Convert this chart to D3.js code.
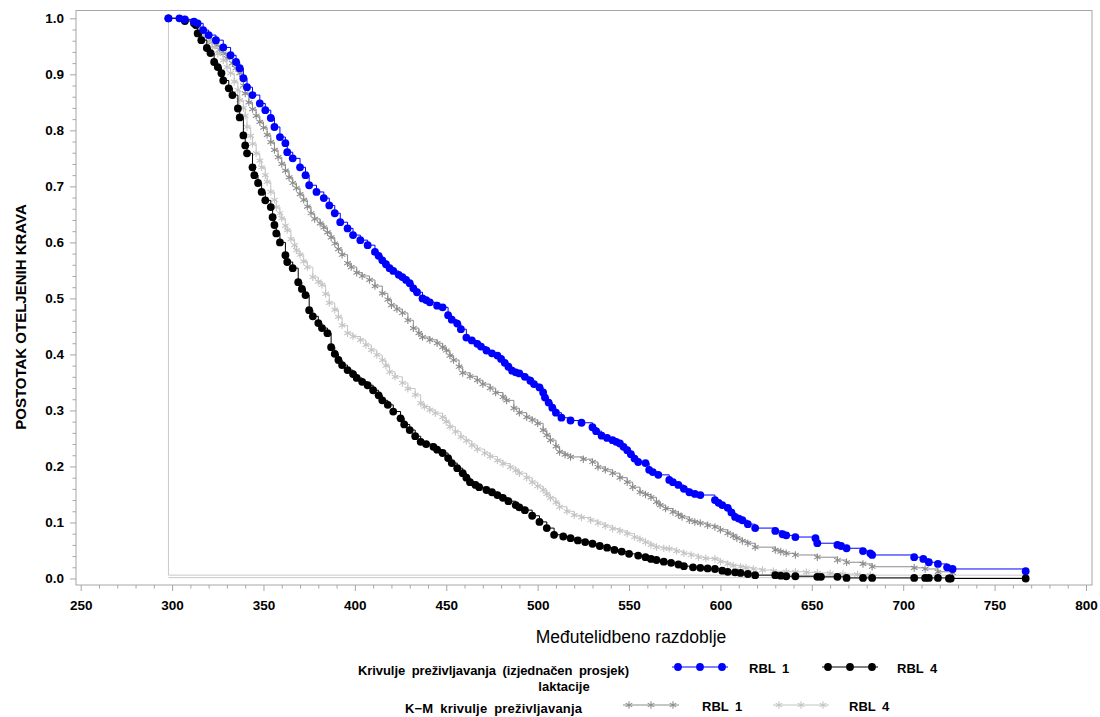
<!DOCTYPE html>
<html>
<head>
  <meta charset="UTF-8">
  <title>Krivulje preživljavanja</title>
  <script src="https://d3js.org/d3.v7.min.js"></script>
  <style>
    body { margin: 0; background: #fff; }
    text { font-family: "Liberation Sans", Arial, sans-serif; fill: #000; }
    .tick text { font-weight: bold; font-size: 13.5px; }
  </style>
</head>
<body>

<div class="chart"></div>

<script>

  // ---- data: [days, survival] ----
  var xTicks = [250, 300, 350, 400, 450, 500, 550, 600, 650, 700, 750, 800];
  var yTicks = [0, 0.1, 0.2, 0.3, 0.4, 0.5, 0.6, 0.7, 0.8, 0.9, 1.0];

  // adjusted survival curves (izjednačen prosjek laktacije)
  var adjRbl1 = [
    [298,1.0],[304,1.0],[307,0.998],[312,0.994],[314,0.991],[317,0.979],[320,0.970],[324,0.961],
    [328,0.948],[332,0.934],[335,0.922],[337,0.911],[339,0.893],[341,0.877],[344,0.863],[348,0.848],
    [351,0.836],[354,0.822],[356,0.806],[359,0.788],[362,0.777],[363,0.761],[366,0.750],[370,0.734],
    [373,0.720],[375,0.702],[379,0.690],[383,0.679],[386,0.666],[389,0.652],[392,0.636],[396,0.625],
    [399,0.613],[403,0.604],[407,0.595],[411,0.583],[413,0.576],[415,0.568],[417,0.561],[419,0.554],
    [421,0.549],[424,0.542],[426,0.538],[428,0.533],[430,0.527],[432,0.518],[434,0.511],[437,0.500],
    [439,0.497],[441,0.493],[445,0.487],[448,0.484],[451,0.470],[453,0.462],[456,0.455],[458,0.445],
    [461,0.430],[464,0.425],[467,0.419],[469,0.414],[472,0.407],[475,0.402],[478,0.398],[480,0.392],
    [482,0.385],[484,0.378],[486,0.371],[488,0.368],[490,0.366],[493,0.360],[496,0.353],[498,0.347],
    [501,0.341],[503,0.332],[504,0.323],[506,0.314],[508,0.305],[510,0.296],[513,0.287],[518,0.282],
    [524,0.278],[530,0.270],[532,0.263],[535,0.255],[538,0.251],[541,0.247],[543,0.244],[545,0.241],
    [547,0.235],[549,0.229],[551,0.222],[553,0.214],[555,0.208],[559,0.206],[561,0.194],[563,0.190],
    [566,0.185],[572,0.176],[574,0.172],[577,0.167],[580,0.160],[583,0.154],[586,0.151],[589,0.149],
    [597,0.140],[599,0.135],[601,0.131],[604,0.126],[606,0.118],[608,0.110],[610,0.107],[612,0.104],
    [615,0.097],[619,0.090],[630,0.085],[634,0.079],[636,0.077],[641,0.074],[652,0.072],[653,0.063],
    [664,0.060],[666,0.058],[669,0.054],[678,0.049],[682,0.045],[683,0.042],[706,0.038],[711,0.035],
    [714,0.029],[719,0.026],[724,0.020],[727,0.017],[767,0.013]
  ];
  var adjRbl4 = [
    [298,1.0],[307,0.995],[312,0.991],[313,0.988],[314,0.973],[316,0.961],[319,0.947],[321,0.938],
    [323,0.922],[325,0.913],[327,0.902],[328,0.889],[331,0.875],[333,0.863],[336,0.839],[337,0.823],
    [339,0.791],[340,0.773],[341,0.759],[344,0.734],[345,0.720],[347,0.706],[349,0.690],[351,0.675],
    [354,0.663],[355,0.645],[356,0.631],[357,0.616],[359,0.600],[362,0.577],[363,0.565],[366,0.554],
    [369,0.529],[371,0.517],[373,0.506],[375,0.479],[377,0.468],[380,0.456],[382,0.447],[385,0.438],
    [387,0.413],[389,0.401],[391,0.390],[393,0.381],[396,0.372],[399,0.365],[401,0.358],[404,0.351],
    [407,0.345],[410,0.336],[413,0.327],[415,0.318],[418,0.310],[421,0.298],[425,0.286],[427,0.275],
    [430,0.265],[433,0.254],[436,0.244],[439,0.240],[443,0.235],[445,0.230],[448,0.224],[451,0.215],
    [453,0.206],[456,0.197],[459,0.188],[461,0.180],[463,0.172],[466,0.167],[468,0.163],[472,0.158],
    [475,0.154],[478,0.149],[481,0.144],[484,0.138],[488,0.131],[490,0.127],[493,0.122],[497,0.112],
    [501,0.101],[505,0.090],[509,0.078],[514,0.075],[518,0.072],[522,0.068],[526,0.065],[530,0.062],
    [534,0.058],[538,0.055],[542,0.051],[546,0.048],[550,0.044],[555,0.041],[559,0.038],[562,0.035],
    [565,0.033],[569,0.030],[573,0.028],[577,0.025],[580,0.022],[585,0.020],[589,0.019],[593,0.018],
    [597,0.017],[601,0.014],[604,0.012],[608,0.011],[611,0.010],[615,0.008],[619,0.006],[630,0.006],
    [633,0.005],[636,0.004],[641,0.004],[653,0.003],[655,0.003],[664,0.003],[669,0.001],[678,0.001],
    [683,0.001],[706,0.001],[712,0.001],[714,0.001],[719,0.001],[725,0.0],[726,0.0],[767,0.0]
  ];

  // Kaplan-Meier curves
  var kmRbl1 = [
    [298,1.0],[307,0.998],[312,0.992],[314,0.985],[316,0.978],[318,0.971],[320,0.965],[322,0.958],
    [324,0.952],[326,0.944],[328,0.937],[330,0.929],[333,0.920],[335,0.911],[337,0.902],[339,0.880],
    [340,0.866],[342,0.850],[344,0.838],[346,0.826],[348,0.815],[350,0.805],[352,0.792],[354,0.779],
    [356,0.765],[358,0.752],[360,0.740],[362,0.728],[364,0.716],[366,0.706],[368,0.697],[370,0.686],
    [372,0.676],[374,0.664],[376,0.652],[378,0.642],[381,0.634],[383,0.627],[385,0.618],[387,0.609],
    [389,0.598],[391,0.588],[393,0.578],[396,0.563],[398,0.556],[401,0.546],[404,0.540],[408,0.533],
    [411,0.522],[415,0.509],[418,0.498],[420,0.488],[423,0.481],[426,0.474],[429,0.461],[432,0.447],
    [435,0.438],[437,0.431],[441,0.426],[445,0.420],[448,0.413],[450,0.407],[452,0.398],[454,0.390],
    [457,0.378],[459,0.367],[463,0.361],[467,0.354],[470,0.347],[474,0.340],[477,0.332],[481,0.324],
    [483,0.318],[487,0.304],[490,0.296],[494,0.288],[497,0.283],[500,0.277],[503,0.265],[505,0.256],
    [507,0.247],[510,0.236],[512,0.226],[515,0.221],[518,0.217],[525,0.213],[530,0.208],[533,0.199],
    [537,0.194],[541,0.188],[545,0.180],[549,0.172],[552,0.163],[556,0.154],[559,0.150],[562,0.145],
    [565,0.137],[567,0.131],[570,0.125],[574,0.119],[577,0.114],[579,0.110],[583,0.104],[586,0.101],
    [589,0.099],[593,0.095],[597,0.092],[600,0.087],[604,0.081],[607,0.076],[609,0.072],[612,0.067],
    [615,0.063],[619,0.056],[630,0.051],[633,0.048],[636,0.045],[641,0.042],[653,0.038],[664,0.033],
    [669,0.029],[678,0.026],[683,0.021],[706,0.019],[712,0.017],[719,0.012],[727,0.010]
  ];
  var kmRbl4 = [
    [298,1.0],[307,0.996],[312,0.990],[314,0.980],[317,0.970],[320,0.958],[322,0.948],[325,0.937],
    [328,0.925],[330,0.913],[332,0.902],[334,0.887],[336,0.872],[337,0.854],[339,0.840],[340,0.826],
    [341,0.806],[343,0.790],[344,0.776],[346,0.759],[348,0.746],[349,0.734],[351,0.720],[352,0.708],
    [354,0.690],[356,0.676],[357,0.663],[359,0.652],[360,0.643],[362,0.630],[363,0.622],[365,0.606],
    [367,0.595],[368,0.586],[370,0.578],[372,0.566],[374,0.556],[377,0.538],[380,0.530],[382,0.524],
    [384,0.508],[386,0.492],[389,0.480],[391,0.467],[393,0.452],[396,0.438],[399,0.432],[403,0.426],
    [406,0.417],[409,0.408],[412,0.399],[415,0.390],[417,0.380],[419,0.369],[422,0.360],[426,0.349],
    [429,0.339],[433,0.328],[436,0.313],[438,0.307],[441,0.301],[444,0.295],[448,0.288],[450,0.280],
    [452,0.271],[455,0.262],[458,0.253],[461,0.246],[464,0.238],[467,0.231],[471,0.224],[474,0.218],
    [478,0.211],[481,0.205],[485,0.199],[488,0.193],[490,0.188],[494,0.180],[497,0.172],[500,0.165],
    [503,0.158],[505,0.151],[507,0.144],[510,0.136],[512,0.128],[516,0.120],[520,0.113],[524,0.109],
    [529,0.104],[533,0.099],[537,0.094],[541,0.089],[545,0.085],[549,0.080],[553,0.074],[556,0.070],
    [559,0.065],[562,0.060],[565,0.056],[569,0.054],[572,0.053],[576,0.049],[580,0.045],[584,0.042],
    [588,0.038],[592,0.036],[597,0.035],[600,0.030],[604,0.026],[607,0.023],[611,0.021],[614,0.019],
    [618,0.017],[623,0.015],[629,0.013],[636,0.012],[641,0.012],[647,0.011],[653,0.010],[660,0.009],
    [667,0.008],[675,0.007],[682,0.006]
  ];

  // thin grey step lines at the start and along the bottom
  var baseA = [[298,1.0],[298,0.006],[767,0.006]];
  var baseB = [[298,0.0015],[767,0.0015]];

  var series = [
    { name: 'km1', data: kmRbl1, color: '#8c8c8c', marker: 'star' },
    { name: 'km4', data: kmRbl4, color: '#c4c4c4', marker: 'star' },
    { name: 'adj4', data: adjRbl4, color: '#000000', marker: 'dot' },
    { name: 'adj1', data: adjRbl1, color: '#0000ff', marker: 'dot' }
  ];

  var svg = d3.select('.chart')
    .append('svg')
      .attr('width', 1100)
      .attr('height', 717);

  // plot frame
  var frame = { left: 76, right: 1092, top: 10.5, bottom: 585 };

  var xScale = d3.scaleLinear()
    .domain([250, 800])
    .range([80.7, 1086]);
  var yScale = d3.scaleLinear()
    .domain([0, 1])
    .range([578.5, 18.3]);

  var axisColor = '#a6a6a6';

  svg.append('rect')
    .attr('x', frame.left)
    .attr('y', frame.top)
    .attr('width', frame.right - frame.left)
    .attr('height', frame.bottom - frame.top)
    .attr('fill', 'none')
    .attr('stroke', axisColor)
    .attr('stroke-width', 1);

  // X axis: major + minor ticks
  var xMinor = d3.range(250, 801, 10).filter(d => d % 50 !== 0);
  var xAxis = svg.append('g')
    .attr('transform', `translate(0, ${frame.bottom})`)
    .call(d3.axisBottom(xScale).tickValues(xTicks).tickSize(6).tickPadding(12).tickFormat(d3.format('d')));
  var xAxisMinor = svg.append('g')
    .attr('transform', `translate(0, ${frame.bottom})`)
    .call(d3.axisBottom(xScale).tickValues(xMinor).tickSize(3.5).tickFormat(''));

  // Y axis: major + minor ticks
  var yMinor = d3.range(0, 51, 1).filter(d => d % 5 !== 0).map(d => d / 50);
  var yAxis = svg.append('g')
    .attr('transform', `translate(${frame.left}, 0)`)
    .call(d3.axisLeft(yScale).tickValues(yTicks).tickSize(6).tickPadding(6).tickFormat(d3.format('.1f')));
  var yAxisMinor = svg.append('g')
    .attr('transform', `translate(${frame.left}, 0)`)
    .call(d3.axisLeft(yScale).tickValues(yMinor).tickSize(3.5).tickFormat(''));

  [xAxis, xAxisMinor, yAxis, yAxisMinor].forEach(function (g) {
    g.select('.domain').remove();
    g.selectAll('.tick line').attr('stroke', axisColor);
  });
  xAxis.selectAll('.tick text').attr('dy', '0.55em');

  // axis titles
  svg.append('text')
    .attr('x', 631)
    .attr('y', 643)
    .attr('text-anchor', 'middle')
    .style('font-size', '17.5px')
    .text('Međutelidbeno razdoblje');

  svg.append('text')
    .attr('transform', 'translate(26, 317) rotate(-90)')
    .attr('text-anchor', 'middle')
    .style('font-size', '15px')
    .style('font-weight', 'bold')
    .text('POSTOTAK OTELJENIH KRAVA');

  // grey base lines
  var line = d3.line()
    .x(d => xScale(d[0]))
    .y(d => yScale(d[1]));
  [baseA, baseB].forEach(function (b) {
    svg.append('path')
      .attr('d', line(b))
      .attr('fill', 'none')
      .attr('stroke', '#c8c8c8')
      .attr('stroke-width', 1);
  });

  var stepLine = d3.line()
    .x(d => xScale(d[0]))
    .y(d => yScale(d[1]))
    .curve(d3.curveStepAfter);

  var star = d3.symbol().type(d3.symbolAsterisk).size(40);

  function drawMarkers(g, pts, s) {
    if (s.marker === 'dot') {
      g.selectAll('circle')
        .data(pts)
        .enter()
        .append('circle')
          .attr('cx', d => d[0])
          .attr('cy', d => d[1])
          .attr('r', 3.9)
          .attr('fill', s.color);
    } else {
      g.selectAll('path.star')
        .data(pts)
        .enter()
        .append('path')
          .attr('class', 'star')
          .attr('d', star)
          .attr('transform', d => `translate(${d[0]}, ${d[1]})`)
          .attr('fill', 'none')
          .attr('stroke', s.color)
          .attr('stroke-width', 1.1);
    }
  }

  // curves
  series.forEach(function (s) {
    var g = svg.append('g').attr('class', s.name);
    g.append('path')
      .attr('d', stepLine(s.data))
      .attr('fill', 'none')
      .attr('stroke', s.color)
      .attr('stroke-width', 1);
    drawMarkers(g, s.data.map(d => [xScale(d[0]), yScale(d[1])]), s);
  });

  // legend
  var legend = svg.append('g').attr('class', 'legend')
    .style('font-size', '13px')
    .style('font-weight', 'bold')
    .style('word-spacing', '3px');

  legend.append('text').attr('x', 358).attr('y', 674.5)
    .attr('textLength', 271).attr('lengthAdjust', 'spacing')
    .text('Krivulje preživljavanja (izjednačen prosjek)');
  legend.append('text').attr('x', 564).attr('y', 690.5).attr('text-anchor', 'middle')
    .text('laktacije');
  legend.append('text').attr('x', 405).attr('y', 712.5)
    .attr('textLength', 177).attr('lengthAdjust', 'spacing')
    .text('K\u2212M krivulje preživljavanja');

  var legendItems = [
    { s: series[3], x: 672, y: 667, label: 'RBL 1', lx: 749 },
    { s: series[2], x: 822, y: 667, label: 'RBL 4', lx: 897 },
    { s: series[0], x: 623, y: 705, label: 'RBL 1', lx: 702 },
    { s: series[1], x: 773, y: 705, label: 'RBL 4', lx: 849 }
  ];
  legendItems.forEach(function (it) {
    var g = legend.append('g');
    g.append('line')
      .attr('x1', it.x).attr('x2', it.x + 56)
      .attr('y1', it.y).attr('y2', it.y)
      .attr('stroke', it.s.color)
      .attr('stroke-width', 1);
    drawMarkers(g, [6, 28, 50].map(o => [it.x + o, it.y]), it.s);
    g.append('text')
      .attr('x', it.lx)
      .attr('y', it.y + 5.5)
      .text(it.label);
  });

</script>

</body>
</html>
